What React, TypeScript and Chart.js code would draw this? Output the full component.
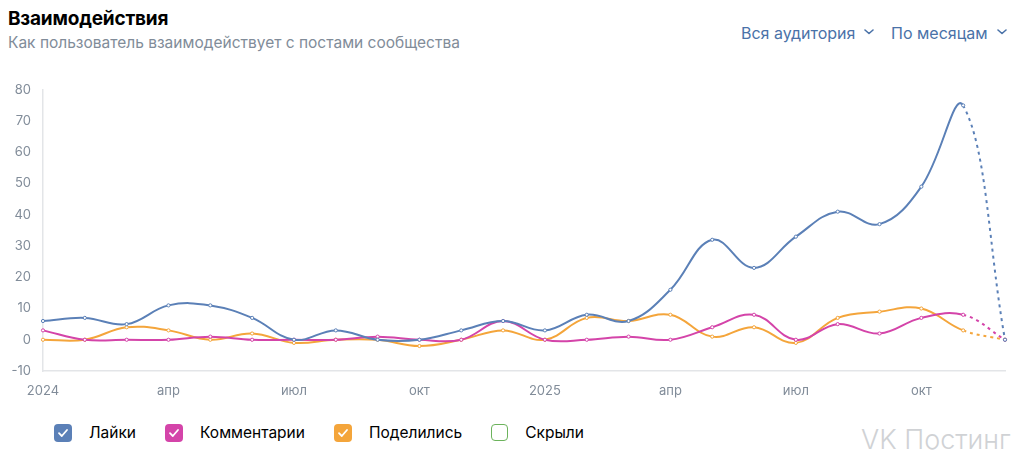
import React, { useEffect, useRef } from "react";
import { Chart, registerables } from "chart.js";

Chart.register(...registerables);

const months = [
  "янв 2024", "фев 2024", "мар 2024", "апр 2024", "май 2024", "июн 2024",
  "июл 2024", "авг 2024", "сен 2024", "окт 2024", "ноя 2024", "дек 2024",
  "янв 2025", "фев 2025", "мар 2025", "апр 2025", "май 2025", "июн 2025",
  "июл 2025", "авг 2025", "сен 2025", "окт 2025", "ноя 2025", "дек 2025",
];

const tickLabels = [
  "2024", "", "", "апр", "", "", "июл", "", "", "окт", "", "",
  "2025", "", "", "апр", "", "", "июл", "", "", "окт", "", "",
];

const likes = [6, 7, 5, 11, 11, 7, 0, 3, 0, 0, 3, 6, 3, 8, 6, 16, 32, 23, 33, 41, 37, 49, 75, 0];
const comments = [3, 0, 0, 0, 1, 0, 0, 0, 1, 0, 0, 6, 0, 0, 1, 0, 4, 8, 0, 5, 2, 7, 8, 0];
const shares = [0, 0, 4, 3, 0, 2, -1, 0, 0, -2, 0, 3, 0, 7, 6, 8, 1, 4, -1, 7, 9, 10, 3, 0];
const hidden = [0, 0, 0, 0, 0, 0, 0, 0, 0, 0, 0, 0, 0, 0, 0, 0, 0, 0, 0, 0, 0, 0, 0, 0];

const yTicks = [-10, 0, 10, 20, 30, 40, 50, 60, 70, 80];

const BLUE = "#5b80b7";
const MAGENTA = "#d444a9";
const ORANGE = "#f4a53b";
const GREEN = "#6cb35c";

const FONT = "Inter, Roboto, 'Noto Sans', sans-serif";

const legendItems = [
  { label: "Лайки", color: BLUE, checked: true },
  { label: "Комментарии", color: MAGENTA, checked: true },
  { label: "Поделились", color: ORANGE, checked: true },
  { label: "Скрыли", color: GREEN, checked: false },
];

function Chevron({ color }: { color: string }) {
  return (
    <svg width="10" height="6" viewBox="0 0 10 6" style={{ marginLeft: 9, marginBottom: 2 }}>
      <path d="M1 1 L5 4.5 L9 1" stroke={color} strokeWidth="1.6" fill="none" strokeLinecap="round" strokeLinejoin="round" />
    </svg>
  );
}

function CheckBox({ color, checked }: { color: string; checked: boolean }) {
  return (
    <div
      style={{
        width: checked ? 18 : 15,
        height: checked ? 18 : 15,
        borderRadius: 4,
        background: checked ? color : "#fff",
        border: checked ? "none" : `1.5px solid ${color}`,
        display: "flex",
        alignItems: "center",
        justifyContent: "center",
        boxSizing: "content-box",
      }}
    >
      {checked && (
        <svg width="12" height="10" viewBox="0 0 12 10">
          <path d="M2 5.2 L4.8 8 L10 2" stroke="#fff" strokeWidth="1.8" fill="none" strokeLinecap="round" strokeLinejoin="round" />
        </svg>
      )}
    </div>
  );
}

export default function App() {
  const canvasRef = useRef<HTMLCanvasElement | null>(null);

  useEffect(() => {
    if (!canvasRef.current) return;
    const last = months.length - 1;
    const mk = (label: string, data: number[], color: string, hide = false) => ({
      label,
      data,
      borderColor: color,
      backgroundColor: color,
      borderWidth: 2,
      tension: 0.4,
      pointRadius: 1.6,
      pointBorderWidth: 1,
      pointBackgroundColor: "#ffffff",
      pointBorderColor: color,
      hidden: hide,
      segment: {
        borderDash: (ctx: any) => (ctx.p1DataIndex === last ? [3, 4] : undefined),
      },
    });
    const chart = new Chart(canvasRef.current, {
      type: "line",
      data: {
        labels: months,
        datasets: [
          mk("Лайки", likes, BLUE),
          mk("Комментарии", comments, MAGENTA),
          mk("Поделились", shares, ORANGE),
          mk("Скрыли", hidden, GREEN, true),
        ],
      },
      options: {
        animation: false,
        responsive: true,
        maintainAspectRatio: false,
        layout: { padding: { top: 13, right: 19, left: 0, bottom: 0 } },
        plugins: { legend: { display: false }, tooltip: { enabled: false } },
        scales: {
          x: {
            offset: false,
            grid: { display: false, drawTicks: false },
            border: { display: true, color: "#e3e5e8", width: 1.5 },
            ticks: {
              autoSkip: false,
              maxRotation: 0,
              padding: 12,
              color: "#818c99",
              font: { family: FONT, size: 13 },
              callback: (_v: any, i: number) => tickLabels[i],
            },
            afterFit: (s: any) => {
              s.height = 34;
            },
          },
          y: {
            min: -10,
            max: 80,
            grid: { display: false, drawTicks: false },
            border: { display: true, color: "#e3e5e8", width: 1.5 },
            afterBuildTicks: (s: any) => {
              s.ticks = yTicks.map((v) => ({ value: v }));
            },
            ticks: {
              padding: 12,
              color: "#818c99",
              font: { family: FONT, size: 13 },
            },
            afterFit: (s: any) => {
              s.width = 43;
            },
          },
        },
      },
    });
    return () => chart.destroy();
  }, []);

  return (
    <div style={{ position: "relative", width: 1024, height: 465, margin: -8, fontFamily: FONT, background: "#fff", overflow: "hidden" }}>
      <div style={{ position: "absolute", left: 8, top: 7, fontSize: 19, fontWeight: 700, color: "#000", letterSpacing: -0.2 }}>
        Взаимодействия
      </div>
      <div style={{ position: "absolute", left: 8, top: 33, fontSize: 15.5, color: "#818c99" }}>
        Как пользователь взаимодействует с постами сообщества
      </div>
      <div style={{ position: "absolute", left: 741, top: 23, fontSize: 16, color: "#4a72a8", display: "flex", alignItems: "center" }}>
        Вся аудитория
        <Chevron color="#4a72a8" />
      </div>
      <div style={{ position: "absolute", left: 891, top: 23, fontSize: 16, color: "#4a72a8", display: "flex", alignItems: "center" }}>
        По месяцам
        <Chevron color="#4a72a8" />
      </div>
      <div style={{ position: "absolute", left: 0, top: 70, width: 1024, height: 335 }}>
        <canvas ref={canvasRef} />
      </div>
      <div style={{ position: "absolute", left: 54, top: 423, display: "flex", alignItems: "center" }}>
        {legendItems.map((it) => (
          <div key={it.label} style={{ display: "flex", alignItems: "center", marginRight: 29 }}>
            <CheckBox color={it.color} checked={it.checked} />
            <span style={{ marginLeft: 17, fontSize: 15.5, color: "#000" }}>{it.label}</span>
          </div>
        ))}
      </div>
      <div style={{ position: "absolute", left: 861, top: 426, fontSize: 27, lineHeight: 1, fontWeight: 300, color: "#d0d2d5" }}>
        VK Постинг
      </div>
    </div>
  );
}
